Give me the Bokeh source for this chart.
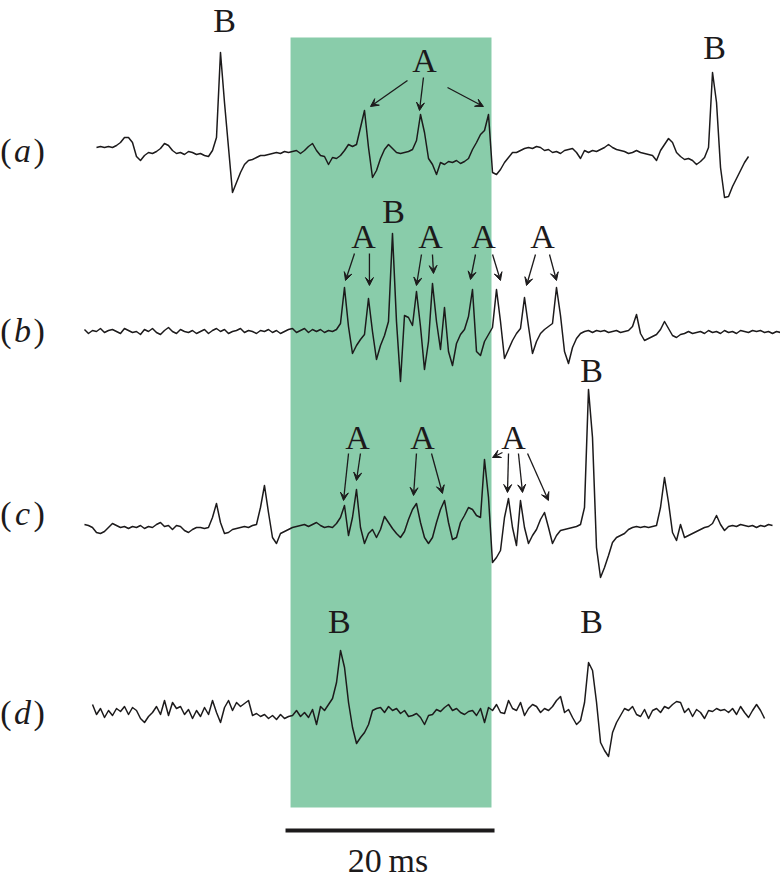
import numpy as np
from bokeh.plotting import figure
from bokeh.models import Range1d, Arrow, VeeHead
from bokeh.embed import file_html
from bokeh.resources import INLINE
from bokeh.core.properties import value

# ---------------- data (time in ms, amplitude in arbitrary units) ----------------
DT_MS = 0.3828
T0_A, T0_B, T0_C, T0_D = 1.53, 0.38, 0.38, 1.15   # first-sample times (ms)

trace_a = [5, 6, 5, 6, 5, 7, 10, 15, 15, 10, -4, -8, -3, 0, -1, 1, 4, 9, 7, 2,
           -1, 0, -2, 1, 0, -2, -1, -3, -4, 2, 15, 100, 50, 5, -40, -30, -20, -12, -8, -7,
           -5, -3, -3, -2, -1, 0, -1, 1, 0, 1, 2, -1, 2, 6, 9, 2, -3, -4, -12, -5,
           -6, -3, 2, 8, 6, 8, 25, 42, 5, -25, -18, -6, 3, 8, 4, 0, -1, 0, 1, 3,
           12, 38, 20, -6, -12, -22, -10, -12, -9, -10, -8, -11, -9, -6, 3, 10, 18, 22, 38, -20,
           -22, -17, -10, -5, 0, 0, 2, 4, 5, 4, 6, 5, 2, 3, 0, 1, -1, 2, 3, 4,
           0, -6, 2, 0, 2, 1, 3, 5, 8, 5, 3, 2, 1, -1, 0, 2, 0, -1, -2, -3,
           -8, 2, 8, 14, 10, 0, -4, -7, -6, -8, -12, -9, -5, 5, 80, 50, -15, -45, -44, -34,
           -26, -18, -10, -4]

trace_b = [2, -2, 1, 0, 3, -1, 1, 2, 0, -2, 3, 1, -1, 0, -3, 2, 0, 3, -1, -3,
           1, 4, 0, -2, 2, 0, -1, 1, -2, 0, 2, -2, 1, 3, 0, 2, -2, 0, 1, 3,
           -1, 1, 0, -2, 1, 0, 2, -1, 1, -2, 0, 2, 3, -1, 1, 3, -1, 2, 0, 2,
           -1, 1, 0, 2, 8, 44, 5, -22, -14, -8, -3, 33, 0, -28, -14, -4, 10, 98, 10, -50,
           16, 14, 6, 40, 5, -38, -10, 48, 10, -18, 24, -20, -34, -12, -3, 2, 15, 42, -20, -24,
           -10, -3, 4, 42, 10, -27, -18, -9, -2, 3, 34, 5, -22, -10, -2, 2, 5, 8, 44, 16,
           -20, -32, -16, -7, -2, 0, 1, -1, 1, 0, 1, -1, 0, 1, -1, 0, 1, 5, 17, -2,
           -9, -7, -5, -3, 2, 10, 3, -4, -6, -3, -2, 0, -2, -1, 0, -2, 1, -1, 0, -2,
           1, -1, 0, -2, 1, 0, -1, 1, 0, 1, -1, 0, -2, 0, -1]

trace_c = [3, 2, 0, -5, -6, -4, 0, 4, 2, 0, 1, -1, 1, 0, 2, -1, 1, 0, 3, 5,
           1, 2, -2, 2, 1, -3, -5, -2, 0, 0, -1, 0, 10, 24, 5, -6, -5, -2, -1, 0,
           1, 0, 2, 3, 20, 42, 15, -10, -16, -6, -4, -2, 0, 1, 2, 3, 1, 3, 5, 2,
           0, 1, 0, 4, 10, 22, -8, 10, 38, 0, -16, -6, -2, -10, -2, 11, 5, -1, -6, -10,
           -4, 8, 18, 24, 5, -10, -16, -10, 5, 18, 27, 5, -12, -10, 5, 12, 20, 18, 12, 10,
           68, 30, -35, -30, -23, 10, 29, 0, -18, 27, 0, -16, -8, -2, 8, 15, 0, -16, -8, -3,
           -2, -1, 0, 1, 3, 20, 138, 90, -20, -50, -40, -28, -15, -10, -8, -6, -2, 0, 1, 0,
           1, 0, 1, 2, 20, 50, 25, -5, -13, 3, -10, -8, -6, -4, -2, 0, 1, 4, 12, 3,
           -3, 1, 2, 1, 3, 2, 1, 2, 0, 2, 1, 3, 2]

trace_d = [8, -2, 4, -5, 2, -3, 4, 1, 6, -2, 5, 2, -6, -10, -4, 0, 6, -2, 12, -3,
           10, 4, 6, -2, 3, -6, 2, -4, 5, -2, 12, 0, -10, 5, 12, 2, 10, 6, 9, 12,
           -3, -1, -4, -2, -6, -3, -7, -2, -6, -4, -3, 2, -4, 0, -5, 3, -12, 6, 2, 8,
           14, 30, 62, 45, 10, -15, -31, -25, -20, -12, 2, 4, 5, 0, 6, 2, 4, -1, 2, -4,
           -3, -1, -5, -12, -3, -2, 3, 1, 5, 8, 2, 4, 0, -2, 1, 2, -3, 4, -10, 5,
           2, 8, 0, -1, 12, 4, 2, 10, -3, 4, 8, 6, 0, 4, 2, 6, 12, 16, 0, 3,
           -5, -12, -8, 10, 50, 42, 10, -30, -38, -44, -20, -10, -3, 4, 2, 6, -2, -4, 3, -6,
           2, 4, 0, 6, 4, 8, 11, 10, 0, 4, -4, 3, 0, -6, 2, 1, 4, 2, 3, 0,
           4, -2, 6, 0, -5, 2, 8, 2, -6]

TRACES = [("a", trace_a, T0_A), ("b", trace_b, T0_B), ("c", trace_c, T0_C), ("d", trace_d, T0_D)]

STIM_START_MS, STIM_END_MS = 20.10, 39.33     # shaded window
SCALE_START_MS, SCALE_LEN_MS = 19.62, 20.0    # scale bar
SCALE_TEXT = "20\u2009ms"

# annotations: (trace, text, time ms, amplitude)
LETTERS = [("a", "B", 13.78, 132), ("a", "B", 60.67, 105), ("a", "A", 32.92, 92),
           ("b", "B", 29.95, 120), ("b", "A", 27.08, 95), ("b", "A", 33.49, 95),
           ("b", "A", 38.56, 95), ("b", "A", 44.21, 95),
           ("c", "A", 26.51, 90), ("c", "A", 32.73, 90), ("c", "A", 41.44, 90),
           ("c", "B", 48.90, 157),
           ("d", "B", 24.78, 91), ("d", "B", 48.90, 91)]
# arrows: (trace, t_start, amp_start, t_end, amp_end)
ARROWS = [("a", 31.29, 72, 27.75, 46), ("a", 32.82, 75, 32.44, 42), ("a", 35.12, 65, 38.56, 46),
          ("b", 26.22, 78, 25.36, 51), ("b", 27.65, 78, 27.65, 46),
          ("b", 32.63, 77, 32.15, 46), ("b", 33.68, 77, 33.78, 58),
          ("b", 37.80, 77, 37.32, 52), ("b", 39.43, 77, 40.19, 51),
          ("b", 43.54, 77, 42.68, 46), ("b", 44.88, 77, 45.55, 51),
          ("c", 25.65, 74, 25.17, 27), ("c", 26.79, 74, 26.41, 47),
          ("c", 32.15, 74, 31.87, 32), ("c", 33.59, 74, 34.64, 34),
          ("c", 40.38, 75, 39.43, 70), ("c", 40.96, 74, 40.86, 35),
          ("c", 41.91, 74, 42.30, 35), ("c", 42.78, 74, 44.78, 27)]
PANEL_LABELS = ["a", "b", "c", "d"]

# ---------------- layout ----------------
BASE = {"a": 721, "b": 542, "c": 346, "d": 161}
LABEL_DY = {"a": 2, "b": 1, "c": 14, "d": 0}
INK = "#1c1a1b"
GREEN = "#89CCAA"
FONT = value("Liberation Serif")

p = figure(width=780, height=881, output_backend="svg", toolbar_location=None,
           x_range=Range1d(-7.655, 66.986), y_range=Range1d(-8, 873),
           min_border=0, outline_line_color=None)
p.xaxis.visible = False
p.yaxis.visible = False
p.grid.visible = False
p.background_fill_color = "white"
p.border_fill_color = "white"

p.quad(left=[STIM_START_MS], right=[STIM_END_MS], bottom=[66], top=[836],
       fill_color=GREEN, line_color=None)

for name, tr, t0 in TRACES:
    v = np.array(tr, dtype=float)
    t = t0 + DT_MS * np.arange(len(v))
    p.line(t, BASE[name] + v, line_color=INK, line_width=1.5, line_join="round")

for name, txt, tt, amp in LETTERS:
    p.text(x=[tt], y=[BASE[name] + amp], text=[txt], text_font=FONT, text_font_size="34px",
           text_align="center", text_baseline="middle", text_color=INK)

for name, ts, a0, te, a1 in ARROWS:
    p.add_layout(Arrow(end=VeeHead(size=8, fill_color=INK, line_color=INK, line_width=1),
                       x_start=ts, y_start=BASE[name] + a0, x_end=te, y_end=BASE[name] + a1,
                       line_color=INK, line_width=1.3))

for name in PANEL_LABELS:
    y = BASE[name] + LABEL_DY[name]
    p.text(x=[-6.60], y=[y], text=["("], text_font=FONT, text_font_size="34px",
           text_align="right", text_baseline="middle", text_color=INK)
    p.text(x=[-5.55], y=[y], text=[name], text_font=FONT, text_font_size="34px",
           text_font_style="italic", text_align="center", text_baseline="middle", text_color=INK)
    p.text(x=[-4.50], y=[y], text=[")"], text_font=FONT, text_font_size="34px",
           text_align="left", text_baseline="middle", text_color=INK)

p.segment(x0=[SCALE_START_MS], x1=[SCALE_START_MS + SCALE_LEN_MS], y0=[43], y1=[43],
          line_color=INK, line_width=4)
p.text(x=[SCALE_START_MS + SCALE_LEN_MS / 2 - 0.2], y=[13], text=[SCALE_TEXT], text_font=FONT,
       text_font_size="34px", text_align="center", text_baseline="middle", text_color=INK)

open("out.html", "w").write(file_html(p, INLINE))
